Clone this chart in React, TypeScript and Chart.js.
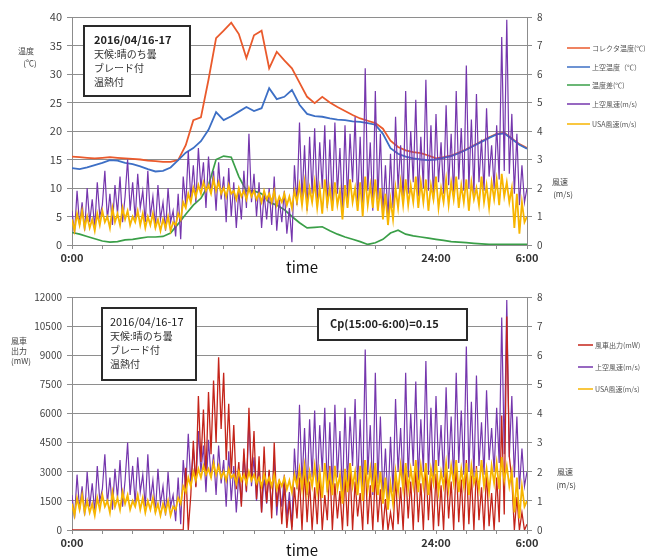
import React, { useEffect, useRef } from 'react';
import { Chart, registerables } from 'chart.js';

Chart.register(...registerables);

// Sampling intervals (hours)
const TEMP_STEP_H = 0.5; // temperatures: every 30 min
const WIND_STEP_H = 1 / 6; // wind speed & turbine output: every 10 min

// Temperatures (°C), 0:00 .. 6:00 next day
const collectorTemp = [
  15.5, 15.4, 15.3, 15.2, 15.3, 15.4, 15.3, 15.2, 15.1, 15.0,
  14.8, 14.7, 14.6, 14.6, 14.9, 17.5, 21.9, 22.4, 29.0, 36.3,
  37.6, 39.0, 37.0, 32.8, 36.8, 37.6, 31.0, 33.9, 32.4, 31.0,
  28.5, 26.0, 24.9, 26.0, 25.0, 24.2, 23.5, 22.8, 22.2, 21.8,
  21.4, 20.4, 18.3, 17.2, 16.6, 16.3, 16.1, 15.7, 15.2, 15.4,
  15.7, 16.2, 16.8, 17.5, 18.2, 18.9, 19.5, 19.7, 18.7, 17.7,
  17.0,
];
const skyTemp = [
  13.5, 13.3, 13.6, 14.0, 14.4, 14.9, 14.8, 14.4, 14.2, 13.8,
  13.3, 12.9, 13.0, 13.6, 14.9, 16.2, 17.0, 18.2, 20.2, 23.3,
  21.9, 22.6, 23.4, 24.2, 23.5, 24.0, 27.5, 25.6, 26.0, 27.2,
  24.6, 23.0, 22.6, 22.5, 22.2, 22.0, 21.9, 21.7, 21.6, 21.4,
  21.1, 19.5, 17.0, 16.0, 15.5, 15.2, 15.0, 14.9, 15.0, 15.3,
  15.6, 16.1, 16.7, 17.4, 18.1, 18.8, 19.4, 19.6, 18.6, 17.6,
  16.9,
];
const tempDiff = [
  2.2, 1.9, 1.5, 1.1, 0.7, 0.5, 0.6, 0.9, 1.0, 1.2,
  1.4, 1.4, 1.5, 2.1, 3.7, 5.4, 7.0, 8.2, 10.5, 15.0,
  15.6, 15.4, 12.0, 9.5, 9.5, 9.0, 7.5, 7.0, 6.2, 5.0,
  3.9, 3.0, 3.1, 3.2, 2.5, 1.9, 1.4, 1.0, 0.6, 0.1,
  0.4, 1.0, 2.1, 2.6, 1.9, 1.6, 1.4, 1.2, 1.0, 0.8,
  0.6, 0.5, 0.4, 0.3, 0.2, 0.1, 0.1, 0.1, 0.1, 0.1,
  0.1,
];

// Wind speed above the roof (m/s), one row per hour
const skyWind = [
  1.2, 0.4, 1.9, 0.7, 1.5, 0.5,
  2.0, 0.8, 1.6, 0.6, 2.2, 1.0,
  1.4, 2.6, 0.9, 1.8, 0.7, 2.1,
  1.1, 2.4, 0.8, 1.7, 3.0, 1.2,
  2.2, 0.9, 2.5, 1.3, 1.9, 0.8,
  2.6, 1.0, 1.7, 0.6, 2.1, 0.9,
  1.5, 0.5, 2.0, 0.8, 1.2, 0.3,
  1.8, 0.2, 2.4, 1.4, 3.3, 1.6,
  2.8, 1.5, 3.4, 2.0, 2.9, 1.3,
  3.1, 1.8, 2.6, 1.2, 2.9, 1.6,
  2.4, 0.8, 2.7, 1.0, 2.2, 0.6,
  1.9, 0.9, 2.6, 1.3, 3.9, 1.5,
  2.5, 1.0, 2.2, 0.6, 1.8, 0.9,
  2.0, 0.7, 2.4, 0.5, 1.6, 0.8,
  1.9, 0.4, 1.3, 0.1, 2.8, 1.4,
  4.3, 1.6, 3.5, 1.2, 3.8, 1.8,
  4.1, 1.5, 3.6, 2.0, 4.2, 1.3,
  3.7, 1.4, 4.3, 1.8, 3.4, 1.2,
  4.2, 1.6, 3.9, 2.2, 4.5, 1.5,
  3.8, 1.3, 6.2, 1.9, 3.6, 1.2,
  5.4, 1.6, 3.9, 1.1, 2.8, 0.9,
  3.2, 1.3, 4.5, 2.0, 3.5, 1.6,
  5.4, 1.8, 4.0, 2.2, 5.1, 1.7,
  3.8, 2.0, 5.8, 1.9, 4.2, 1.6,
  4.6, 2.2, 3.6, 1.8, 4.9, 2.1,
  3.9, 1.7, 5.4, 2.3, 4.1, 1.9,
  6.3, 2.0, 4.4, 1.8, 5.3, 2.2,
  3.7, 1.9, 4.8, 2.4, 3.5, 2.0,
  4.2, 2.3, 7.3, 2.6, 7.9, 2.5,
  4.6, 1.8, 3.9, 1.4, 2.8, 1.5,
  2.0,
];

// Wind speed at the updraft stack (m/s)
const usaWind = [
  0.9, 0.5, 1.1, 0.7, 1.2, 0.6,
  1.0, 0.6, 0.9, 0.5, 1.1, 0.7,
  1.2, 0.8, 1.0, 0.6, 1.3, 0.8,
  1.1, 0.7, 1.3, 0.9, 1.2, 0.7,
  1.0, 0.8, 1.2, 0.7, 1.1, 0.6,
  1.0, 0.7, 1.1, 0.6, 0.9, 0.5,
  0.9, 0.6, 1.0, 0.5, 0.8, 0.7,
  1.1, 0.9, 1.5, 1.3, 1.8, 1.5,
  2.0, 1.7, 2.1, 1.8, 2.2, 1.9,
  2.1, 1.8, 2.3, 1.9, 2.2, 1.8,
  2.0, 1.7, 2.1, 1.8, 1.9, 1.6,
  2.0, 1.7, 1.9, 1.6, 2.0, 1.7,
  1.9, 1.6, 1.8, 1.5, 1.9, 1.6,
  1.8, 1.5, 1.9, 1.4, 1.7, 1.5,
  1.8, 1.4, 1.7, 1.3, 1.9, 1.5,
  2.1, 1.4, 2.2, 1.3, 2.0, 1.5,
  2.2, 1.3, 2.0, 1.1, 2.3, 1.4,
  2.0, 1.2, 2.2, 1.4, 1.9, 0.9,
  2.1, 1.3, 2.3, 1.5, 2.0, 1.2,
  2.2, 1.0, 2.4, 1.4, 2.1, 1.3,
  2.3, 1.2, 2.0, 0.9, 1.8, 0.7,
  1.6, 0.9, 2.0, 1.3, 2.2, 1.4,
  2.3, 1.4, 2.1, 1.5, 2.4, 1.3,
  2.2, 1.5, 2.3, 1.2, 2.1, 1.6,
  2.4, 1.3, 2.0, 1.5, 2.3, 1.4,
  2.2, 1.6, 2.4, 1.3, 2.1, 1.5,
  2.3, 1.2, 2.2, 1.6, 2.0, 1.4,
  2.4, 1.5, 2.1, 1.3, 2.2, 1.6,
  2.3, 1.4, 2.5, 1.7, 2.2, 1.5,
  2.0, 0.6, 1.8, 0.4, 1.5, 0.8,
  1.0,
];

// Turbine output (mW)
const turbinePower = [
  0, 0, 0, 0, 0, 0,
  0, 0, 0, 0, 0, 0,
  0, 0, 0, 0, 0, 0,
  0, 0, 0, 0, 0, 0,
  0, 0, 0, 0, 0, 0,
  0, 0, 0, 0, 0, 0,
  0, 0, 0, 0, 0, 0,
  0, 0, 0, 3200, 0, 1800,
  4600, 2200, 6900, 3500, 6200, 2800,
  7100, 3900, 7700, 4500, 8900, 5200,
  8100, 3600, 6500, 2900, 5400, 2100,
  3500, 1200, 4200, 2000, 6300, 2600,
  5100, 1600, 3800, 900, 4300, 1400,
  3100, 600, 4500, 1200, 2600, 300,
  2400, 100, 1500, 0, 2200, 600,
  2700, 0, 3100, 400, 2500, 0,
  2200, 300, 2900, 0, 1800, 500,
  3300, 0, 2400, 600, 2000, 0,
  2800, 200, 3200, 0, 2500, 700,
  1900, 0, 3600, 300, 2300, 0,
  3000, 400, 2100, 0, 1600, 0,
  900, 0, 2700, 300, 2200, 0,
  3100, 600, 2500, 0, 3300, 400,
  2400, 0, 3400, 500, 2700, 0,
  2900, 200, 2300, 0, 3200, 600,
  2500, 0, 3500, 400, 2600, 0,
  3600, 300, 2800, 0, 3300, 500,
  2200, 0, 3000, 200, 1900, 0,
  2700, 400, 5900, 800, 11000, 3800,
  2600, 0, 1700, 0, 900, 0,
  300,
];

const timeTickLabels: Record<number, string> = { 0: '0:00', 24: '24:00', 30: '6:00' };
const topLegendLabels = ['コレクタ温度(℃)', '上空温度（℃）', '温度差(℃)', '上空風速(m/s)', 'USA風速(m/s)'];
const bottomLegendLabels = ['風車出力(mW)', '上空風速(m/s)', 'USA風速(m/s)'];
const noteLines = ['2016/04/16-17', '天候:晴のち曇', 'ブレード付', '温熱付'];
const cpNote = 'Cp(15:00-6:00)=0.15';

const COLORS = {
  collector: '#ea5a2c',
  sky: '#3d6fc5',
  diff: '#3a9f48',
  skyWind: '#7536ad',
  usaWind: '#f7b500',
  turbine: '#c4241a',
};

const FONT = '"Noto Sans CJK JP", "Noto Sans", sans-serif';
Chart.defaults.font.family = FONT;

const toPoints = (values: number[], step: number) =>
  values.map((v, i) => ({ x: +(i * step).toFixed(4), y: v }));

type Item =
  | { kind: 'text'; text: string; x: number; y: number; size: number; weight?: string; color?: string; align?: CanvasTextAlign }
  | { kind: 'box'; x: number; y: number; w: number; h: number }
  | { kind: 'legend'; x1: number; x2: number; y: number; color: string; text: string };

// Draws notes, legends and horizontal axis titles on top of the plot
const overlayPlugin = {
  id: 'overlay',
  afterDraw(chart: any, _args: any, opts: any) {
    const ctx: CanvasRenderingContext2D = chart.ctx;
    const items: Item[] = opts.items || [];
    ctx.save();
    for (const it of items) {
      if (it.kind === 'box') {
        ctx.fillStyle = '#ffffff';
        ctx.fillRect(it.x, it.y, it.w, it.h);
        ctx.strokeStyle = '#2a2a2a';
        ctx.lineWidth = 2;
        ctx.strokeRect(it.x, it.y, it.w, it.h);
      } else if (it.kind === 'text') {
        ctx.font = `${it.weight || 'normal'} ${it.size}px ${FONT}`;
        ctx.fillStyle = it.color || '#333';
        ctx.textAlign = it.align || 'left';
        ctx.textBaseline = 'middle';
        ctx.fillText(it.text, it.x, it.y);
      } else if (it.kind === 'legend') {
        ctx.strokeStyle = it.color;
        ctx.lineWidth = 1.5;
        ctx.beginPath();
        ctx.moveTo(it.x1, it.y);
        ctx.lineTo(it.x2, it.y);
        ctx.stroke();
        ctx.font = `normal 7px ${FONT}`;
        ctx.fillStyle = '#555';
        ctx.textAlign = 'left';
        ctx.textBaseline = 'middle';
        ctx.fillText(it.text, it.x2 + 2, it.y);
      }
    }
    ctx.restore();
  },
};

function buildScales(leftMax: number, leftStep: number, leftFont: number, xHeight: number) {
  return {
    x: {
      type: 'linear',
      min: 0,
      max: 30,
      ticks: {
        stepSize: 2,
        autoSkip: false,
        maxRotation: 0,
        padding: 2,
        color: '#333',
        font: { size: 11, weight: 'bold' },
        callback: (v: number) => timeTickLabels[v] ?? '',
      },
      grid: { drawOnChartArea: false, tickLength: 4, color: '#8c8c8c' },
      border: { color: '#8c8c8c' },
      afterFit: (s: any) => { s.height = xHeight; },
    },
    yL: {
      position: 'left',
      min: 0,
      max: leftMax,
      ticks: {
        stepSize: leftStep,
        padding: 5,
        color: '#444',
        font: { size: leftFont },
        callback: (v: number) => String(v),
      },
      grid: { color: '#8e8e8e', tickLength: 5, lineWidth: 1 },
      border: { color: '#8c8c8c' },
      afterFit: (s: any) => { s.width = 72; },
    },
    yR: {
      position: 'right',
      min: 0,
      max: 8,
      ticks: { stepSize: 1, padding: 5, color: '#444', font: { size: 10 } },
      grid: { drawOnChartArea: false, tickLength: 5, color: '#8c8c8c' },
      border: { color: '#8c8c8c' },
      afterFit: (s: any) => { s.width = 138; },
    },
  };
}

const line = (label: string, data: any[], color: string, width: number, axis: string, order: number) => ({
  label,
  data,
  borderColor: color,
  backgroundColor: color,
  borderWidth: width,
  pointRadius: 0,
  tension: 0,
  yAxisID: axis,
  order,
});

function topConfig(): any {
  const legendRows = [48, 67, 85, 104, 124];
  const legendColors = [COLORS.collector, COLORS.sky, COLORS.diff, COLORS.skyWind, COLORS.usaWind];
  const items: Item[] = [
    { kind: 'box', x: 84, y: 26, w: 106, h: 70 },
    { kind: 'text', text: noteLines[0], x: 94, y: 40, size: 11, weight: 'bold', color: '#222' },
    { kind: 'text', text: noteLines[1], x: 94, y: 54, size: 10 },
    { kind: 'text', text: noteLines[2], x: 94, y: 68, size: 10 },
    { kind: 'text', text: noteLines[3], x: 94, y: 82, size: 10 },
    { kind: 'text', text: '温度', x: 26, y: 51, size: 8, align: 'center', color: '#444' },
    { kind: 'text', text: '(℃)', x: 30, y: 63, size: 8, align: 'center', color: '#444' },
    { kind: 'text', text: '風速', x: 560, y: 182, size: 8, align: 'center', color: '#444' },
    { kind: 'text', text: '(m/s)', x: 563, y: 194, size: 8, align: 'center', color: '#444' },
    { kind: 'text', text: 'time', x: 302, y: 267, size: 15, align: 'center', color: '#111' },
    ...topLegendLabels.map((t, i) => ({ kind: 'legend' as const, x1: 567, x2: 590, y: legendRows[i], color: legendColors[i], text: t })),
  ];
  return {
    type: 'line',
    data: {
      datasets: [
        line(topLegendLabels[4], toPoints(usaWind, WIND_STEP_H), COLORS.usaWind, 1.8, 'yR', 1),
        line(topLegendLabels[3], toPoints(skyWind, WIND_STEP_H), COLORS.skyWind, 1.2, 'yR', 2),
        line(topLegendLabels[2], toPoints(tempDiff, TEMP_STEP_H), COLORS.diff, 1.7, 'yL', 3),
        line(topLegendLabels[1], toPoints(skyTemp, TEMP_STEP_H), COLORS.sky, 1.8, 'yL', 4),
        line(topLegendLabels[0], toPoints(collectorTemp, TEMP_STEP_H), COLORS.collector, 1.8, 'yL', 5),
      ],
    },
    options: {
      animation: false,
      responsive: false,
      devicePixelRatio: 1,
      layout: { padding: { top: 17, left: 0, right: 0, bottom: 0 } },
      plugins: { legend: { display: false }, tooltip: { enabled: false }, overlay: { items } },
      scales: buildScales(40, 5, 11, 35),
    },
    plugins: [overlayPlugin],
  };
}

function bottomConfig(): any {
  const legendRows = [65, 87, 109];
  const legendColors = [COLORS.turbine, COLORS.skyWind, COLORS.usaWind];
  const items: Item[] = [
    { kind: 'box', x: 102, y: 28, w: 94, h: 72 },
    { kind: 'text', text: noteLines[0], x: 110, y: 42, size: 11, color: '#222' },
    { kind: 'text', text: noteLines[1], x: 110, y: 56, size: 10 },
    { kind: 'text', text: noteLines[2], x: 110, y: 70, size: 10 },
    { kind: 'text', text: noteLines[3], x: 110, y: 84, size: 10 },
    { kind: 'box', x: 318, y: 29, w: 149, h: 31 },
    { kind: 'text', text: cpNote, x: 330, y: 44, size: 11, weight: 'bold', color: '#222' },
    { kind: 'text', text: '風車', x: 19, y: 61, size: 8, align: 'center', color: '#444' },
    { kind: 'text', text: '出力', x: 19, y: 71, size: 8, align: 'center', color: '#444' },
    { kind: 'text', text: '(mW)', x: 21, y: 81, size: 8, align: 'center', color: '#444' },
    { kind: 'text', text: '風速', x: 565, y: 192, size: 8, align: 'center', color: '#444' },
    { kind: 'text', text: '(m/s)', x: 566, y: 205, size: 8, align: 'center', color: '#444' },
    { kind: 'text', text: 'time', x: 302, y: 270, size: 15, align: 'center', color: '#111' },
    ...bottomLegendLabels.map((t, i) => ({ kind: 'legend' as const, x1: 578, x2: 593, y: legendRows[i], color: legendColors[i], text: t })),
  ];
  return {
    type: 'line',
    data: {
      datasets: [
        line(bottomLegendLabels[2], toPoints(usaWind, WIND_STEP_H), COLORS.usaWind, 1.8, 'yR', 1),
        line(bottomLegendLabels[0], toPoints(turbinePower, WIND_STEP_H), COLORS.turbine, 1.3, 'yL', 2),
        line(bottomLegendLabels[1], toPoints(skyWind, WIND_STEP_H), COLORS.skyWind, 1.2, 'yR', 3),
      ],
    },
    options: {
      animation: false,
      responsive: false,
      devicePixelRatio: 1,
      layout: { padding: { top: 17, left: 0, right: 0, bottom: 0 } },
      plugins: { legend: { display: false }, tooltip: { enabled: false }, overlay: { items } },
      scales: buildScales(12000, 1500, 10, 30),
    },
    plugins: [overlayPlugin],
  };
}

function ChartCanvas({ make, top }: { make: () => any; top: number }) {
  const ref = useRef<HTMLCanvasElement | null>(null);
  useEffect(() => {
    if (!ref.current) return;
    const chart = new Chart(ref.current, make());
    return () => chart.destroy();
  }, [make]);
  return (
    <canvas
      ref={ref}
      width={665}
      height={280}
      style={{ position: 'absolute', left: 0, top, width: 665, height: 280 }}
    />
  );
}

export default function App() {
  return (
    <div style={{ position: 'absolute', left: 0, top: 0, width: 665, height: 560, background: '#fff', overflow: 'hidden' }}>
      <ChartCanvas make={topConfig} top={0} />
      <ChartCanvas make={bottomConfig} top={280} />
    </div>
  );
}
